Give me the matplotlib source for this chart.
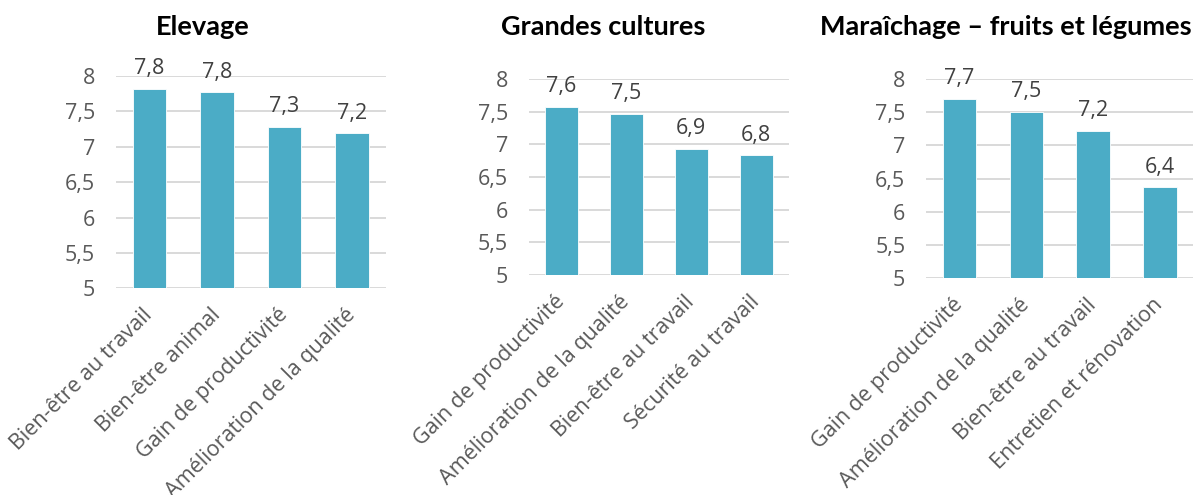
import matplotlib
matplotlib.use("Agg")
import matplotlib.pyplot as plt
from matplotlib.ticker import FuncFormatter

plt.rcParams['font.family'] = ['Open Sans', 'DejaVu Sans']

# scores moyens par filière
titles = ["Elevage", "Grandes cultures", "Maraîchage – fruits et légumes"]

elevage_labels = ["Bien-être au travail", "Bien-être animal",
                  "Gain de productivité", "Amélioration de la qualité"]
elevage_values = [7.82, 7.77, 7.28, 7.19]

gc_labels = ["Gain de productivité", "Amélioration de la qualité",
             "Bien-être au travail", "Sécurité au travail"]
gc_values = [7.57, 7.47, 6.93, 6.83]

mar_labels = ["Gain de productivité", "Amélioration de la qualité",
              "Bien-être au travail", "Entretien et rénovation"]
mar_values = [7.70, 7.50, 7.22, 6.37]

y_ticks = [5, 5.5, 6, 6.5, 7, 7.5, 8]

BAR = "#4BACC6"
GRID = "#D9D9D9"
TXT = "#595959"
LBL = "#404040"

W, H = 1198, 495
fig = plt.figure(figsize=(W / 100, H / 100), dpi=100)

# axes boxes in pixels: left, right, top, bottom
boxes = [(115.75, 385.75, 76, 288.3),
         (528.8, 788.8, 79, 275),
         (926.1, 1193.3, 79, 278.3)]
title_x = [203, 603, 1006]

comma = FuncFormatter(lambda v, p: f"{v:g}".replace(".", ","))

panels = [(elevage_labels, elevage_values),
          (gc_labels, gc_values),
          (mar_labels, mar_values)]

for (labels, values), (l, r, t, b), tx, title in zip(panels, boxes, title_x, titles):
    ax = fig.add_axes([l / W, 1 - b / H, (r - l) / W, (b - t) / H])
    x = range(len(values))
    bars = ax.bar(x, values, width=0.5, color=BAR, edgecolor="white",
                  linewidth=0.6, bottom=0, zorder=3)
    ax.set_ylim(5, 8)
    ax.set_xlim(-0.5, len(values) - 0.5)
    ax.set_yticks(y_ticks)
    ax.yaxis.set_major_formatter(comma)
    ax.grid(axis="y", color=GRID, linewidth=1.4, zorder=0)
    for s in ax.spines.values():
        s.set_visible(False)
    ax.tick_params(axis="y", length=0, pad=15, labelsize=15.5, labelcolor=TXT)
    ax.tick_params(axis="x", length=0, pad=17)
    ax.set_xticks(list(x))
    ax.set_xticklabels(labels, rotation=45, ha="right", va="center",
                       rotation_mode="anchor", fontsize=15.5, color=TXT)
    for rect, v in zip(bars, values):
        ax.annotate(f"{v:.1f}".replace(".", ","),
                    (rect.get_x() + rect.get_width() / 2, v),
                    xytext=(0, 7), textcoords="offset points",
                    ha="center", va="bottom", fontsize=15.5, color=LBL,
                    annotation_clip=False)
    fig.text(tx / W, 1 - 27 / H, title, ha="center", va="center",
             fontsize=19.5, fontweight="bold", color="black", family="Lato")

fig.savefig("out.png", dpi=100)
